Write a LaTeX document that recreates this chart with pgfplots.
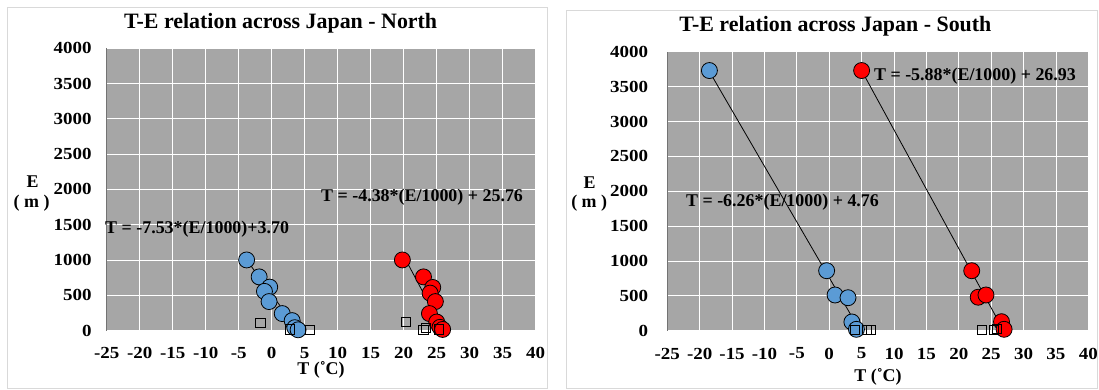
\documentclass[border=0pt]{standalone}
\usepackage{fontspec}
\setmainfont{Liberation Serif}
\usepackage{graphicx}
\usepackage{pgfplots}
\pgfplotsset{compat=1.18}
\definecolor{bg}{RGB}{166,166,166}
\definecolor{sblue}{RGB}{91,155,213}
\definecolor{sred}{RGB}{255,0,0}
\definecolor{framec}{RGB}{217,217,217}
\newcommand\tl[1]{\scalebox{1.12}[1.0]{#1}}

\pgfplotsset{
  teaxis/.style={
    scale only axis, clip=false,
    xmin=-25, xmax=40, ymin=0, ymax=4000,
    xtick={-25,-20,-15,-10,-5,0,5,10,15,20,25,30,35,40},
    xticklabels={\tl{-25},\tl{-20},\tl{-15},\tl{-10},\tl{-5},\tl{0},\tl{5},\tl{10},\tl{15},\tl{20},\tl{25},\tl{30},\tl{35},\tl{40}},
    ytick={0,500,1000,1500,2000,2500,3000,3500,4000},
    yticklabels={\tl{0},\tl{500},\tl{1000},\tl{1500},\tl{2000},\tl{2500},\tl{3000},\tl{3500},\tl{4000}},
    major tick length=0pt,
    grid=major, major grid style={white, line width=0.8bp},
    axis background/.style={fill=bg},
    axis lines*=left,
    x axis line style={white, line width=0.8bp, -},
    y axis line style={black!55, line width=0.8bp, -},
    xticklabel style={font=\bfseries\fontsize{17}{17}\selectfont, anchor=north, inner sep=0pt, yshift=-17bp},
    yticklabel style={font=\bfseries\fontsize{17}{17}\selectfont, anchor=east, inner sep=0pt},
  },
  bluec/.style={only marks, mark=*, mark size=8bp, mark options={fill=sblue, draw=black, line width=0.8bp}},
  redc/.style={only marks, mark=*, mark size=8bp, mark options={fill=sred, draw=black, line width=0.8bp}},
  sq/.style={only marks, mark=square, mark size=4.6bp, mark options={draw=black, line width=1bp, fill=none}},
  fitl/.style={no marks, black, line width=0.8bp},
}

\begin{document}
\begin{tikzpicture}
\useasboundingbox (0,0) rectangle (1099bp,390bp);
\fill[white] (0,0) rectangle (1099bp,390bp);
\draw[framec, line width=0.8bp] (7bp,2bp) rectangle (547bp,383bp);
\draw[framec, line width=0.8bp] (566bp,2bp) rectangle (1097bp,380bp);

% ---------------- North ----------------
\begin{axis}[teaxis, at={(106.7bp,59.5bp)}, anchor=south west,
  width=429bp, height=282.2bp,
  yticklabel style={xshift=-15bp}]
\addplot[bluec] coordinates {(-3.8,1000) (-1.9,760) (-0.3,615) (-1.1,555) (-0.4,410) (1.6,240) (3.1,140) (3.5,40) (4.0,10)};
\addplot[redc] coordinates {(19.8,1000) (23.0,760) (24.4,610) (24.0,530) (24.8,410) (23.9,240) (25.0,120) (25.5,45) (25.9,15)};
\addplot[sq] coordinates {(-1.7,110) (2.8,15) (5.8,5)};
\addplot[sq] coordinates {(20.4,115) (23.0,10) (23.4,40) (25.4,15)};
\addplot[fitl] coordinates {(-3.8,1000) (4.0,0)};
\addplot[fitl] coordinates {(19.7,1110) (26.0,0)};
\end{axis}

% ---------------- South ----------------
\begin{axis}[teaxis, at={(667.3bp,59.3bp)}, anchor=south west,
  width=421bp, height=279bp,
  yticklabel style={xshift=-19bp}]
\addplot[bluec] coordinates {(-18.5,3730) (-0.4,860) (0.9,512) (2.9,473) (3.5,125) (4.2,20)};
\addplot[redc] coordinates {(5.0,3730) (22.0,860) (23.0,480) (24.2,512) (26.6,129) (27.0,20)};
\addplot[sq] coordinates {(4.0,5) (5.8,10) (6.4,10)};
\addplot[sq] coordinates {(23.6,5) (25.5,15) (25.9,20)};
\addplot[fitl] coordinates {(-18.59,3730) (4.76,0)};
\addplot[fitl] coordinates {(5.0,3730) (26.93,0)};
\end{axis}

% ---------------- text ----------------
\begin{scope}[every node/.style={inner sep=0pt, font=\bfseries\fontsize{18}{18}\selectfont}]
\node[font=\bfseries\fontsize{22}{22}\selectfont] at (280.6bp,367bp) {T-E relation across Japan - North};
\node[font=\bfseries\fontsize{22}{22}\selectfont] at (835.4bp,363.3bp) {T-E relation across Japan - South};
\node at (32.6bp,208bp) {E};
\node at (31.6bp,187bp) {( m )};
\node at (589.6bp,207.3bp) {E};
\node at (589.2bp,186.7bp) {( m )};
\node at (321bp,20bp) {T (˚C)};
\node at (878bp,13.3bp) {T (˚C)};
\node[anchor=west] at (321bp,193bp) {T = -4.38*(E/1000) + 25.76};
\node[anchor=west] at (105bp,161bp) {T = -7.53*(E/1000)+3.70};
\node[anchor=west] at (873.9bp,314bp) {T = -5.88*(E/1000) + 26.93};
\node[anchor=west] at (685.9bp,188.3bp) {T = -6.26*(E/1000) + 4.76};
\end{scope}
\end{tikzpicture}
\end{document}
